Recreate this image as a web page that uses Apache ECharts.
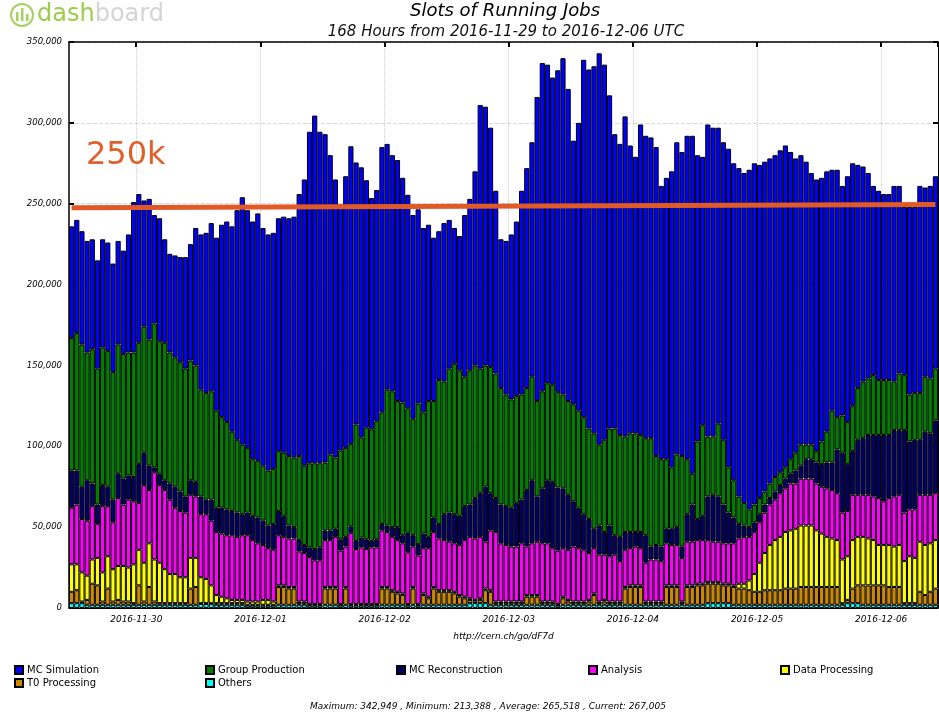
<!DOCTYPE html>
<html><head><meta charset="utf-8">
<script src="https://cdn.jsdelivr.net/npm/echarts@6/dist/echarts.min.js"></script>
<style>html,body{margin:0;padding:0;background:#fff}#c{width:939px;height:715px}</style>
</head><body><div id="c"></div>
<script>
// ---- data (running job slots, in thousands) ----
const firstHourUTC = '2016-11-29T11:00:00Z';
const hourCount = 168;
const yTickValuesK = [0, 50, 100, 150, 200, 250, 300, 350];

const mcSimulation = [
69,70,70,69,68,67,67,67,67,64,64,73,93,92,78,87,67,76,64,61,63,
65,69,72,85,96,99,104,107,119,124,127,142,153,147,147,153,147,146,146,144,146,
147,149,162,177,205,215,205,203,185,172,152,168,184,162,167,153,143,143,164,152,146,
149,139,132,126,120,114,109,101,92,98,92,84,83,100,106,120,163,160,148,113,92,
95,102,108,126,136,145,188,203,197,190,199,208,193,163,178,221,222,227,242,232,206,
182,180,198,178,171,192,187,186,191,169,174,183,193,188,200,209,177,166,193,191,183,
184,197,196,203,204,210,211,206,204,201,199,199,199,190,182,179,175,168,168,163,161,
149,153,142,152,150,138,133,127,117,117,115,115,121,116,104,116,115,128,117,119,119];

const groupProduction = [
82,85,88,79,83,84,85,84,79,80,77,76,77,75,78,78,89,82,85,81,80,
80,79,74,72,66,66,67,60,56,54,49,45,43,40,35,35,34,34,34,37,39,
43,43,52,49,52,53,52,42,47,44,55,55,51,72,62,69,69,73,69,84,84,
78,82,77,72,87,75,84,72,89,82,89,93,90,80,83,82,77,75,78,77,72,
69,67,66,65,63,64,59,60,60,60,59,58,58,60,60,60,56,59,50,57,60,
66,63,59,61,61,60,60,67,55,54,43,38,45,56,34,19,48,56,37,36,45,
40,28,23,17,14,11,11,10,8,9,9,8,7,9,11,13,9,9,7,14,19,
32,20,23,26,28,32,35,35,37,34,34,34,30,35,34,29,29,29,34,34,32];

const mcReconstruction = [
23,21,20,25,14,12,13,12,14,15,16,15,15,24,20,15,3,7,6,10,13,
12,10,9,9,11,9,13,15,16,16,15,15,13,14,15,16,15,14,16,15,13,
8,7,7,5,6,7,8,6,6,5,7,6,4,5,6,6,4,5,4,4,6,
8,5,12,7,7,9,7,9,9,16,18,18,18,21,20,25,27,34,23,21,24,
24,24,27,27,35,39,28,34,39,41,39,37,34,28,25,22,21,12,18,14,19,
12,15,11,10,9,10,17,8,9,9,9,10,11,7,17,23,13,15,27,29,28,
24,19,16,9,7,6,6,5,5,4,5,5,6,6,8,8,12,12,13,14,16,
17,27,37,29,27,34,35,37,38,39,41,39,41,40,51,42,43,34,39,38,45];

const analysis = [
35,37,33,34,33,21,41,31,29,42,38,42,39,29,48,33,54,48,49,46,41,
41,40,39,38,39,40,40,39,39,39,40,39,40,41,38,36,34,32,32,31,30,
30,30,31,30,29,27,27,29,29,31,33,25,44,34,35,34,35,35,35,34,33,
32,31,32,25,30,28,30,34,32,31,30,30,31,35,38,38,38,29,37,43,36,
35,34,34,36,30,32,33,36,36,33,33,30,31,34,33,32,29,28,29,28,28,
29,25,23,23,24,23,24,26,26,25,26,25,25,27,27,27,27,27,26,25,25,
25,25,26,28,29,27,26,25,25,25,25,27,27,29,28,29,29,29,29,29,30,
30,29,29,28,28,26,26,27,27,29,27,29,31,31,30,29,30,29,31,30,29];

const dataProcessing = [
17,16,18,15,15,17,18,20,20,21,22,21,24,22,24,27,26,25,21,18,18,
16,16,19,18,16,15,11,5,4,3,2,2,2,2,2,2,3,3,2,1,1,
1,1,1,1,0.5,0.5,0.5,1,1,1,0.5,1,0.5,0.5,0.5,0.5,0.5,0.5,1,1,1,
1,1,0.5,1,0.5,1,1,1,1,1,1,1,1,1,1,1,1,1,1,1,1,
1,1,1,1,1,1,1,1,1,1,0.5,1,1,1,1,1,1,1,1,1,1,
1,1,1,1,1,1,1,1,1,1,1,1,1,1,1,1,1,1,1,1,1,
1,1,1,3,3,6,11,18,23,28,31,33,35,36,37,38,38,38,35,33,31,
30,29,27,27,30,30,30,29,28,25,25,26,25,26,26,29,28,31,31,30,30];

const t0Processing = [
7,8,1,3,13,12,2,10,2,3,2,2,1,12,2,11,2,1,1,1,1,
1,1,10,11,0.5,0.5,0.5,1,1,1,1,1,1,0.5,0.5,0.5,0.5,0.5,0.5,11,11,
10,10,1,1,0.5,0.5,0.5,10,10,10,0.5,10,0.5,0.5,0.5,0.5,0.5,0.5,10,10,8,
7,6,0.5,10,0.5,6,4,10,8,8,8,7,5,4,2,1,2,8,8,1,1,
1,1,1,1,5,5,5,1,1,1,0.5,4,2,1,1,1,2,6,1,2,1,
1,1,10,11,11,11,1,1,1,1,11,11,11,1,11,11,12,12,12,12,12,
11,11,11,10,10,9,8,8,9,9,9,9,10,10,10,11,11,11,11,11,11,
11,11,1,2,9,11,12,12,12,12,12,11,11,11,1,1,1,8,6,8,10];

const others = [
3,3,3,2,2,2,2,2,2,2,2,2,2,2,2,2,2,2,2,2,2,
2,2,2,2,2.5,2.5,2.5,2,2,2,2,2,2,1.5,1.5,1.5,1.5,1.5,1.5,2,2,
2,2,2,2,1.5,1.5,1.5,2,2,2,1.5,2,1.5,1.5,1.5,1.5,1.5,1.5,2,2,2,
2,2,1.5,2,1.5,2,2,2,2,2,2,2,2,2,3,3,3,3,2,2,2,
2,2,2,2,2,2,2,2,2,2,1.5,2,2,2,2,2,2,2,2,2,2,
2,2,2,2,2,2,2,2,2,2,2,2,2,2,2,2,2,2,3,3,3,
3,3,2,2,2,2,2,2,2,2,2,2,2,2,2,2,2,2,2,2,2,
2,2,2,3,3,3,2,2,2,2,2,2,2,2,2,2,2,2,2,2,2];

// 250k reference line (start / end level, thousands)
const refLineK = [247.5, 249.5];

// ---- chart ----
const categories = [];
const t0 = Date.parse(firstHourUTC);
for (let i = 0; i < hourCount; i++) {
  const d = new Date(t0 + i * 3600000).toISOString();
  categories.push(d.slice(0, 10) + ' ' + d.slice(11, 13) + ':00');
}
const FONT = 'DejaVu Sans';
const dayStart = (idx, val) => String(val).slice(11, 13) === '00';

const seriesDefs = [
  ['Others', others, '#00ffff'],
  ['T0 Processing', t0Processing, '#cc8800'],
  ['Data Processing', dataProcessing, '#ffff00'],
  ['Analysis', analysis, '#ff00ff'],
  ['MC Reconstruction', mcReconstruction, '#000066'],
  ['Group Production', groupProduction, '#008000'],
  ['MC Simulation', mcSimulation, '#0000ff']
];
const series = seriesDefs.map(([name, data, color]) => ({
  name, type: 'bar', stack: 'jobs', data,
  barCategoryGap: '0%',
  itemStyle: { color, borderColor: '#000', borderWidth: 1 },
  emphasis: { disabled: true },
  animation: false
}));
series[series.length - 1].markLine = {
  silent: true, symbol: ['none', 'none'], animation: false,
  label: { show: false },
  lineStyle: { color: '#e05a28', width: 5, type: 'solid', opacity: 1 },
  data: [[{ coord: [0, refLineK[0]] }, { coord: [hourCount - 1, refLineK[1]] }]]
};

const legendSlots = [
  ['MC Simulation', 14, 665], ['Group Production', 205, 665], ['MC Reconstruction', 396, 665],
  ['Analysis', 588, 665], ['Data Processing', 780, 665],
  ['T0 Processing', 14, 678], ['Others', 205, 678]
];
const legends = legendSlots.map(([n, l, t]) => ({
  data: [n], left: l, top: t, padding: 0, itemWidth: 8, itemHeight: 8, itemGap: 0,
  icon: 'rect', selectedMode: false,
  textStyle: { fontSize: 10, color: '#000', fontFamily: FONT, padding: [0, 0, 0, -1] }
}));

const chart = echarts.init(document.getElementById('c'), null, { renderer: 'canvas' });
chart.setOption({
  animation: false,
  backgroundColor: '#fff',
  textStyle: { fontFamily: FONT },
  grid: { left: 69, right: 1, top: 42, bottom: 107 },
  legend: legends,
  xAxis: [{
    type: 'category', data: categories, position: 'bottom', boundaryGap: true,
    axisLine: { show: true, onZero: false, lineStyle: { color: '#000', width: 1 } },
    axisTick: { inside: true, length: 5, interval: dayStart, lineStyle: { color: '#000', width: 2 } },
    axisLabel: { interval: dayStart, formatter: v => v.slice(0, 10), fontSize: 9, fontStyle: 'italic',
      color: '#000', margin: 7, padding: [0, 5, 0, 0], fontFamily: FONT },
    splitLine: { show: true, interval: dayStart, lineStyle: { color: '#d0d0d0', type: 'dotted', width: 1 } },
    name: 'http://cern.ch/go/dF7d', nameLocation: 'middle', nameGap: 24,
    nameTextStyle: { fontSize: 9, fontStyle: 'italic', color: '#000', fontFamily: FONT }
  }, {
    type: 'category', data: categories, position: 'top', boundaryGap: true,
    axisLine: { show: true, onZero: false, lineStyle: { color: '#000', width: 1.5 } },
    axisTick: { show: true, inside: true, length: 5, interval: dayStart, lineStyle: { color: '#000', width: 2 } },
    axisLabel: { show: false }, splitLine: { show: false }
  }],
  yAxis: [{
    type: 'value', min: yTickValuesK[0], max: yTickValuesK[yTickValuesK.length - 1], interval: 50,
    axisLine: { show: true, onZero: false, lineStyle: { color: '#000', width: 1.5 } },
    axisTick: { show: true, inside: true, length: 5, lineStyle: { color: '#000', width: 2 } },
    axisLabel: { formatter: v => v === 0 ? '0' : v + ',000', fontSize: 8.5, fontStyle: 'italic',
      color: '#000', margin: 7, fontFamily: FONT },
    splitLine: { show: true, lineStyle: { color: '#d8d8d8', type: 'dashed', width: 1 } }
  }, {
    type: 'value', position: 'right', min: 0, max: 350, interval: 50,
    axisLine: { show: true, onZero: false, lineStyle: { color: '#000', width: 1 } },
    axisTick: { show: true, inside: true, length: 5, lineStyle: { color: '#000', width: 2 } },
    axisLabel: { show: false }, splitLine: { show: false }
  }],
  series,
  graphic: [
    { type: 'text', x: 505, y: 2, style: { text: 'Slots of Running Jobs', textAlign: 'center', textVerticalAlign: 'top',
      font: 'italic 18px "DejaVu Sans"', fill: '#000' } },
    { type: 'text', x: 506, y: 25, style: { text: '168 Hours from 2016-11-29 to 2016-12-06 UTC', textAlign: 'center',
      textVerticalAlign: 'top', font: 'italic 15px "DejaVu Sans"', fill: '#111' } },
    { type: 'text', x: 488, y: 702, style: { text: 'Maximum: 342,949 , Minimum: 213,388 , Average: 265,518 , Current: 267,005',
      textAlign: 'center', textVerticalAlign: 'top', font: 'italic 9px "DejaVu Sans"', fill: '#000' } },
    { type: 'text', x: 86, y: 156, z: 100, style: { text: '250k', textAlign: 'left', textVerticalAlign: 'middle',
      font: '32px "DejaVu Sans"', fill: '#e0602c' } },
    { type: 'circle', shape: { cx: 22, cy: 15, r: 11 }, style: { fill: 'none', stroke: '#a8d060', lineWidth: 2 } },
    { type: 'rect', shape: { x: 16, y: 12, width: 2.5, height: 9 }, style: { fill: '#a8d060' } },
    { type: 'rect', shape: { x: 21, y: 8, width: 2.5, height: 13 }, style: { fill: '#a8d060' } },
    { type: 'rect', shape: { x: 26, y: 14, width: 2.5, height: 7 }, style: { fill: '#a8d060' } },
    { type: 'text', x: 37, y: 15, style: { text: '{a|dash}{b|board}', textVerticalAlign: 'middle',
      rich: { a: { fill: '#9ccc4a', font: '24px "DejaVu Sans"' }, b: { fill: '#d4d4d4', font: '24px "DejaVu Sans"' } } } }
  ]
});
</script>
</body></html>
